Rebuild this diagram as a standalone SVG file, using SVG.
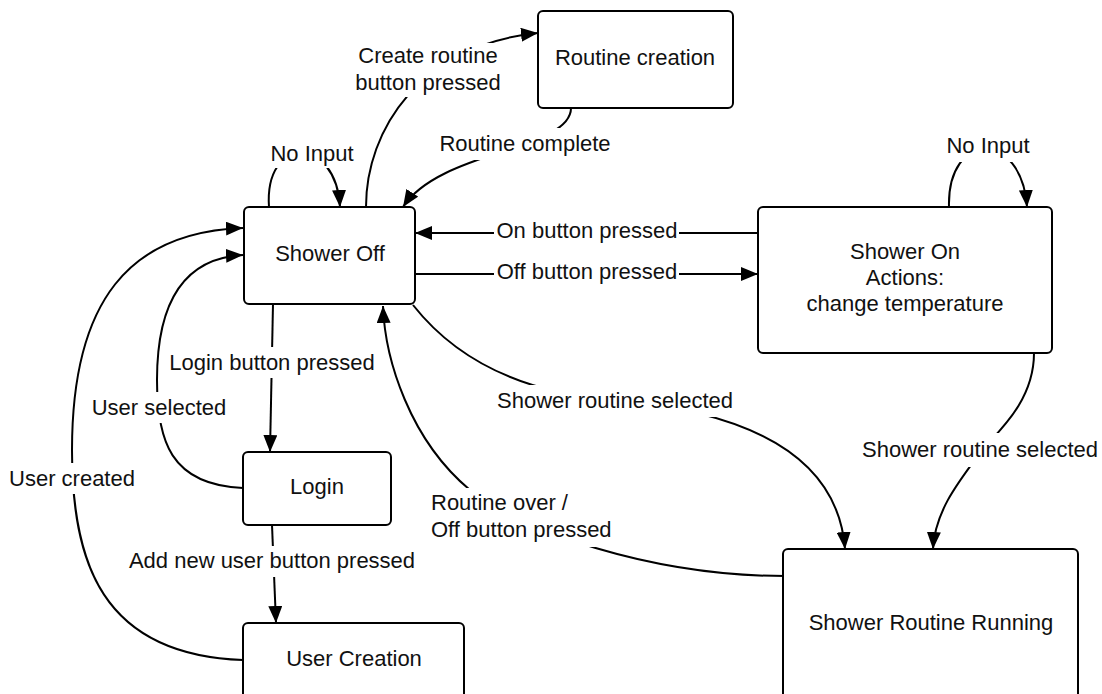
<svg xmlns="http://www.w3.org/2000/svg" width="1102" height="694" viewBox="0 0 1102 694">
  <style>
    .box { fill: #ffffff; stroke: #000000; stroke-width: 2; }
    .edge { fill: none; stroke: #000000; stroke-width: 2; }
    .lbl-bg { fill: #ffffff; stroke: none; }
    text { font-family: "Liberation Sans", Arial, sans-serif; font-size: 22px; fill: #111111; }
    .c { text-anchor: middle; }
  </style>
  <defs>
    <marker id="arrow" markerUnits="userSpaceOnUse" markerWidth="18" markerHeight="14" refX="17" refY="7" orient="auto">
      <path d="M0,0 L17,7 L0,14 z" fill="#000000"/>
    </marker>
  </defs>

  <rect width="1102" height="694" fill="#ffffff"/>

  <!-- transitions -->
  <g id="connectors">
    <!-- self loop on Shower Off -->
    <path class="edge" d="M269,207 C264,135 336,135 340,207" marker-end="url(#arrow)"/>
    <!-- Shower Off to Routine creation -->
    <path class="edge" d="M366,207 C366,130 420,45 538,33" marker-end="url(#arrow)"/>
    <!-- Routine creation back to Shower Off -->
    <path class="edge" d="M571,108 C571,150 440,150 403,207" marker-end="url(#arrow)"/>
    <!-- On / Off buttons -->
    <path class="edge" d="M758,233 L415,233" marker-end="url(#arrow)"/>
    <path class="edge" d="M415,274 L758,274" marker-end="url(#arrow)"/>
    <!-- self loop on Shower On -->
    <path class="edge" d="M949,207 C947,130 1022,130 1027,207" marker-end="url(#arrow)"/>
    <!-- Shower Off to Shower Routine Running -->
    <path class="edge" d="M413,305 Q480,390 615,400 Q835,420 845,549" marker-end="url(#arrow)"/>
    <!-- Shower On to Shower Routine Running -->
    <path class="edge" d="M1034,353 C1034,400 1000,430 983,449 C960,480 935,510 933,549" marker-end="url(#arrow)"/>
    <!-- Shower Routine Running back to Shower Off -->
    <path class="edge" d="M785,576 C650,576 520,530 470,490 C410,440 385,360 383,306" marker-end="url(#arrow)"/>
    <!-- Shower Off to Login -->
    <path class="edge" d="M273,304 L270,452" marker-end="url(#arrow)"/>
    <!-- Login back to Shower Off -->
    <path class="edge" d="M243,488 C170,485 157,440 157,380 C157,300 185,258 243,255" marker-end="url(#arrow)"/>
    <!-- Login to User Creation -->
    <path class="edge" d="M272,525 L276,623" marker-end="url(#arrow)"/>
    <!-- User Creation back to Shower Off -->
    <path class="edge" d="M243,660 C100,655 72,560 72,450 C72,300 130,232 243,228" marker-end="url(#arrow)"/>

    <!-- transition labels -->
    <rect class="lbl-bg" x="268" y="138" width="88" height="30"/>
    <text class="c" x="312" y="161">No Input</text>

    <rect class="lbl-bg" x="352" y="43" width="154" height="54"/>
    <text class="c" x="428" y="63">Create routine</text>
    <text class="c" x="428" y="90">button pressed</text>

    <rect class="lbl-bg" x="436" y="128" width="178" height="32"/>
    <text class="c" x="525" y="151">Routine complete</text>

    <rect class="lbl-bg" x="494" y="218" width="185" height="28"/>
    <text class="c" x="587" y="238">On button pressed</text>

    <rect class="lbl-bg" x="494" y="259" width="185" height="28"/>
    <text class="c" x="587" y="279">Off button pressed</text>

    <rect class="lbl-bg" x="944" y="130" width="88" height="32"/>
    <text class="c" x="988" y="153">No Input</text>

    <rect class="lbl-bg" x="494" y="385" width="242" height="32"/>
    <text class="c" x="615" y="408">Shower routine selected</text>

    <rect class="lbl-bg" x="859" y="433" width="242" height="34"/>
    <text class="c" x="980" y="457">Shower routine selected</text>

    <rect class="lbl-bg" x="428" y="488" width="190" height="59"/>
    <text x="431" y="510">Routine over /</text>
    <text x="431" y="537">Off button pressed</text>

    <rect class="lbl-bg" x="165" y="347" width="214" height="31"/>
    <text class="c" x="272" y="370">Login button pressed</text>

    <rect class="lbl-bg" x="91" y="392" width="136" height="31"/>
    <text class="c" x="159" y="415">User selected</text>

    <rect class="lbl-bg" x="8" y="463" width="128" height="31"/>
    <text class="c" x="72" y="486">User created</text>

    <rect class="lbl-bg" x="124" y="546" width="297" height="31"/>
    <text class="c" x="272" y="568">Add new user button pressed</text>
  </g>

  <!-- states -->
  <g id="routine-creation">
    <rect class="box" x="538" y="11" width="195" height="97" rx="5"/>
    <text class="c" x="635" y="65">Routine creation</text>
  </g>

  <g id="shower-off">
    <rect class="box" x="244" y="207" width="171" height="97" rx="5"/>
    <text class="c" x="330" y="261">Shower Off</text>
  </g>

  <g id="shower-on">
    <rect class="box" x="758" y="207" width="294" height="146" rx="5"/>
    <text class="c" x="905" y="259">Shower On</text>
    <text class="c" x="905" y="285">Actions:</text>
    <text class="c" x="905" y="311">change temperature</text>
  </g>

  <g id="login">
    <rect class="box" x="243" y="452" width="148" height="73" rx="5"/>
    <text class="c" x="317" y="494">Login</text>
  </g>

  <g id="user-creation">
    <rect class="box" x="243" y="623" width="221" height="90" rx="5"/>
    <text class="c" x="354" y="666">User Creation</text>
  </g>

  <g id="shower-routine-running">
    <rect class="box" x="783" y="549" width="295" height="160" rx="5"/>
    <text class="c" x="931" y="630">Shower Routine Running</text>
  </g>
</svg>
